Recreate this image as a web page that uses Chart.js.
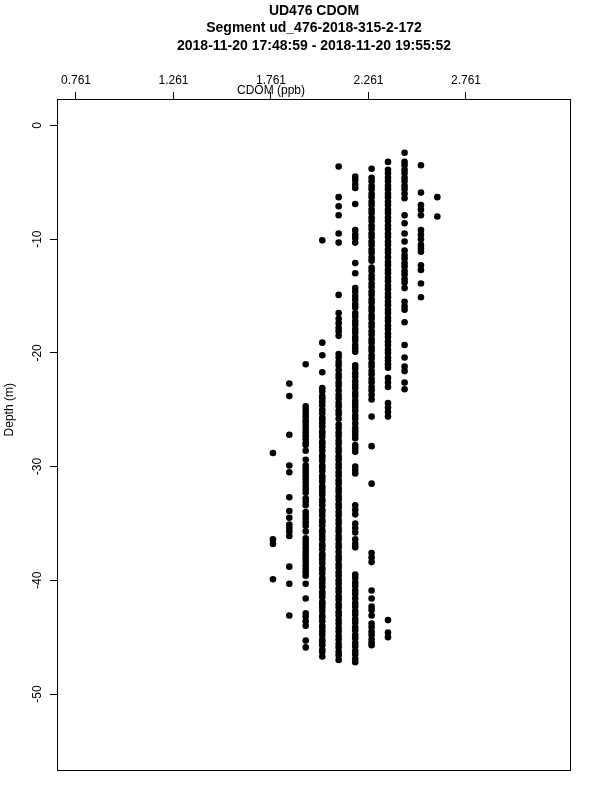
<!DOCTYPE html>
<html>
<head>
<meta charset="utf-8">
<script src="https://cdn.jsdelivr.net/npm/chart.js@4/dist/chart.umd.min.js"></script>
<style>
  html, body { margin: 0; padding: 0; background: #fff; }
  #wrap { width: 600px; height: 800px; }
</style>
</head>
<body>
<div id="wrap"><canvas id="c" width="600" height="800"></canvas></div>
<script>
// ---------- DATA ----------
const titleLines = ["UD476 CDOM", "Segment ud_476-2018-315-2-172", "2018-11-20 17:48:59 - 2018-11-20 19:55:52"];
const xTitle = "CDOM (ppb)";
const yTitle = "Depth (m)";
const xTickValues = [0.761, 1.261, 1.761, 2.261, 2.761];
const xTickLabels = ["0.761", "1.261", "1.761", "2.261", "2.761"];
const yTickValues = [0, -10, -20, -30, -40, -50];
const yTickLabels = ["0", "-10", "-20", "-30", "-40", "-50"];
const xRange = [0.6636, 3.2995];
const yRange = [-56.77, 2.33];

// CDOM levels (ppb) of the vertical point columns
const cdomLevels = [1.771, 1.855, 1.939, 2.024, 2.108, 2.193, 2.277, 2.361, 2.446, 2.530, 2.614];

// depths (m) observed at each CDOM level
const depthsAt1771 = [-28.8, -36.4, -36.8, -39.9];
const depthsAt1855 = [-22.7, -23.8, -27.2, -29.9, -30.5, -32.7, -33.9, -34.5, -35.1, -35.4, -35.7, -36.1, -38.8, -40.3, -43.1];
const depthsAt1939 = [-21.0, -24.7, -25.0, -25.3, -25.6, -25.9, -26.1, -26.4, -26.7, -27.0, -27.3, -27.6, -27.9, -28.1,
  -28.6, -29.4, -29.9, -30.2, -30.5, -30.8, -31.1, -31.4, -31.7, -32.0, -32.3, -32.8, -33.1, -33.4, -34.0, -34.3,
  -34.6, -34.9, -35.2, -35.7, -36.3, -36.6, -36.9, -37.2, -37.5, -37.8, -38.1, -38.4, -38.7, -39.0, -39.3, -39.6,
  -40.3, -41.6, -42.9, -43.2, -43.6, -44.0, -45.3, -45.9];
const depthsAt2024 = [-10.1, -19.1, -20.2, -21.7, -23.1, -23.4, -23.8, -24.0, -24.3, -24.6, -25.0, -25.3, -25.7, -25.9,
  -26.2, -26.5, -26.9, -27.1, -27.4, -27.8, -28.0, -28.3, -28.6, -29.0, -29.2, -29.5, -29.9, -30.1, -30.4, -30.8,
  -31.0, -31.3, -31.7, -31.9, -32.2, -32.5, -32.9, -33.1, -33.4, -33.8, -34.0, -34.3, -34.7, -34.9, -35.2, -35.6,
  -35.8, -36.1, -36.4, -36.8, -37.0, -37.3, -37.7, -37.9, -38.2, -38.5, -38.9, -39.1, -39.4, -39.8, -40.0, -40.3,
  -40.6, -41.0, -41.2, -41.5, -41.9, -42.1, -42.4, -42.7, -43.1, -43.3, -43.6, -44.0, -44.2, -44.5, -44.8, -45.2,
  -45.4, -45.7, -46.1, -46.3, -46.7];
const depthsAt2108 = [-3.6, -6.3, -7.1, -7.9, -9.5, -10.3, -14.9, -16.5, -17.0, -17.4, -17.8, -18.1, -18.5, -20.1, -20.4,
  -20.8, -21.1, -21.5, -21.9, -22.2, -22.6, -22.9, -23.3, -23.7, -24.0, -24.4, -24.7, -25.1, -25.4, -25.8, -26.3,
  -26.6, -27.0, -27.3, -27.7, -28.0, -28.4, -28.7, -29.1, -29.4, -29.8, -30.1, -30.5, -30.8, -31.2, -31.5, -31.9,
  -32.2, -32.6, -32.9, -33.3, -33.6, -34.0, -34.3, -34.7, -35.0, -35.4, -35.7, -36.1, -36.4, -36.8, -37.1, -37.5,
  -37.9, -38.2, -38.6, -38.9, -39.3, -39.6, -40.0, -40.3, -40.7, -41.0, -41.4, -41.7, -42.1, -42.4, -42.8, -43.1,
  -43.5, -43.8, -44.2, -44.5, -44.9, -45.2, -45.6, -45.9, -46.3, -46.6, -47.0];
const depthsAt2193 = [-4.5, -4.8, -5.2, -5.5, -6.9, -9.2, -9.6, -9.9, -10.3, -12.1, -13.0, -14.3, -14.6, -15.0, -15.3,
  -15.7, -16.0, -16.5, -16.8, -17.2, -17.5, -17.9, -18.2, -18.6, -18.9, -19.3, -19.6, -19.9, -21.1, -21.4, -21.8,
  -22.1, -22.5, -22.8, -23.1, -23.5, -23.8, -24.2, -24.5, -24.8, -25.1, -25.5, -25.8, -26.2, -26.6, -26.9, -27.2,
  -27.5, -28.1, -28.4, -28.7, -30.0, -30.3, -30.6, -33.4, -33.8, -34.2, -35.0, -35.4, -35.8, -36.4, -36.8, -37.1,
  -39.5, -39.8, -40.2, -40.5, -40.9, -41.2, -41.6, -42.0, -42.3, -42.7, -43.0, -43.4, -43.7, -44.1, -44.4, -44.8,
  -45.1, -45.5, -45.8, -46.2, -46.5, -46.9, -47.2];
const depthsAt2277 = [-3.8, -4.6, -4.9, -5.3, -5.6, -6.0, -6.3, -6.7, -7.0, -7.4, -7.7, -8.1, -8.4, -8.8, -9.1, -9.5,
  -9.8, -10.2, -10.5, -10.9, -11.2, -11.6, -11.9, -12.5, -12.8, -13.2, -13.5, -13.9, -14.2, -14.6, -14.9, -15.3,
  -15.6, -16.0, -16.3, -16.7, -17.0, -17.4, -17.7, -18.1, -18.4, -18.8, -19.1, -19.5, -19.8, -20.2, -20.5, -20.9,
  -21.2, -21.6, -21.9, -22.3, -22.6, -23.0, -23.3, -23.7, -24.1, -25.6, -28.2, -31.5, -37.6, -38.0, -38.4, -40.9,
  -41.6, -42.3, -42.6, -43.1, -43.8, -44.1, -44.5, -44.8, -45.2, -45.5, -45.7];
const depthsAt2361 = [-3.2, -3.9, -4.2, -4.6, -4.9, -5.3, -5.6, -6.0, -6.3, -6.7, -7.0, -7.4, -7.7, -8.1, -8.4, -8.8,
  -9.1, -9.5, -9.8, -10.2, -10.5, -10.9, -11.2, -11.6, -12.0, -12.3, -12.7, -13.0, -13.4, -13.7, -14.1, -14.4,
  -14.8, -15.1, -15.5, -15.8, -16.2, -16.5, -16.9, -17.2, -17.6, -17.9, -18.3, -18.6, -19.0, -19.3, -19.7, -20.0,
  -20.4, -20.7, -21.0, -21.3, -22.2, -22.6, -23.0, -24.4, -24.8, -25.2, -25.6, -43.5, -44.6, -45.0];
const depthsAt2446 = [-2.4, -3.2, -3.5, -3.9, -4.2, -4.6, -4.9, -5.3, -5.6, -6.0, -6.4, -7.9, -8.6, -9.5, -10.2, -11.0,
  -11.4, -11.7, -12.1, -12.4, -12.8, -13.1, -13.5, -13.8, -14.3, -15.5, -15.9, -16.2, -17.3, -19.3, -20.4, -21.2,
  -21.6, -22.6, -23.2];
const depthsAt2530 = [-3.5, -5.9, -7.0, -7.4, -7.9, -9.2, -9.6, -10.0, -10.5, -10.8, -11.1, -12.3, -12.7, -13.9, -15.1];
const depthsAt2614 = [-6.3, -8.0];

const depthColumns = [depthsAt1771, depthsAt1855, depthsAt1939, depthsAt2024, depthsAt2108, depthsAt2193,
  depthsAt2277, depthsAt2361, depthsAt2446, depthsAt2530, depthsAt2614];

// where R put the axis titles (mean of the tick values)
const xTitleAt = 1.761;
const yTitleAt = -25;

// ---------- CHART ----------
const FONT = "'Liberation Sans', Arial, Helvetica, sans-serif";
const points = [];
cdomLevels.forEach((c, i) => depthColumns[i].forEach(d => points.push({ x: c, y: d })));

const framePlugin = {
  id: 'frameAndTitles',
  afterDraw(chart) {
    const { ctx, chartArea: a, scales } = chart;
    ctx.save();
    ctx.strokeStyle = '#000';
    ctx.lineWidth = 1;
    ctx.strokeRect(Math.round(a.left) + 0.5, Math.round(a.top) + 0.5,
      Math.round(a.right - a.left) - 1, Math.round(a.bottom - a.top) - 1);
    ctx.fillStyle = '#000';
    ctx.font = '12px ' + FONT;
    ctx.textAlign = 'center';
    ctx.textBaseline = 'middle';
    ctx.fillText(xTitle, scales.x.getPixelForValue(xTitleAt), 91);
    ctx.translate(10, scales.y.getPixelForValue(yTitleAt));
    ctx.rotate(-Math.PI / 2);
    ctx.fillText(yTitle, 0, 0);
    ctx.restore();
  }
};

new Chart(document.getElementById('c'), {
  type: 'scatter',
  data: {
    datasets: [{
      data: points,
      backgroundColor: '#000',
      borderColor: '#000',
      borderWidth: 0,
      pointRadius: 3.3,
      pointHoverRadius: 3.3
    }]
  },
  options: {
    responsive: false,
    animation: false,
    devicePixelRatio: 1,
    events: [],
    layout: { padding: { left: 0, top: 0, right: 29, bottom: 29 } },
    plugins: {
      legend: { display: false },
      tooltip: { enabled: false },
      title: {
        display: true,
        text: titleLines,
        fullSize: false,
        color: '#000',
        font: { family: FONT, size: 14, weight: 'bold', lineHeight: 1.25 },
        padding: { top: 2, bottom: 5.5 }
      }
    },
    scales: {
      x: {
        type: 'linear',
        position: 'top',
        min: xRange[0],
        max: xRange[1],
        afterBuildTicks: s => { s.ticks = xTickValues.map(v => ({ value: v })); },
        afterFit: s => { s.height = 39; },
        ticks: {
          color: '#000',
          font: { family: FONT, size: 12 },
          padding: 4,
          maxRotation: 0,
          minRotation: 0,
          autoSkip: false,
          callback: (v) => { const i = xTickValues.indexOf(v); return i >= 0 ? xTickLabels[i] : ''; }
        },
        grid: { drawOnChartArea: false, drawTicks: true, tickLength: 7, tickColor: '#000', lineWidth: 1 },
        border: { display: false }
      },
      y: {
        type: 'linear',
        position: 'left',
        min: yRange[0],
        max: yRange[1],
        afterBuildTicks: s => { s.ticks = yTickValues.map(v => ({ value: v })); },
        afterFit: s => { s.width = 57; },
        ticks: {
          color: '#000',
          font: { family: FONT, size: 12 },
          padding: 4,
          minRotation: 90,
          maxRotation: 90,
          crossAlign: 'center',
          autoSkip: false,
          callback: (v) => { const i = yTickValues.indexOf(v); return i >= 0 ? yTickLabels[i] : ''; }
        },
        grid: { drawOnChartArea: false, drawTicks: true, tickLength: 7, tickColor: '#000', lineWidth: 1 },
        border: { display: false }
      }
    }
  },
  plugins: [framePlugin]
});
</script>
</body>
</html>
